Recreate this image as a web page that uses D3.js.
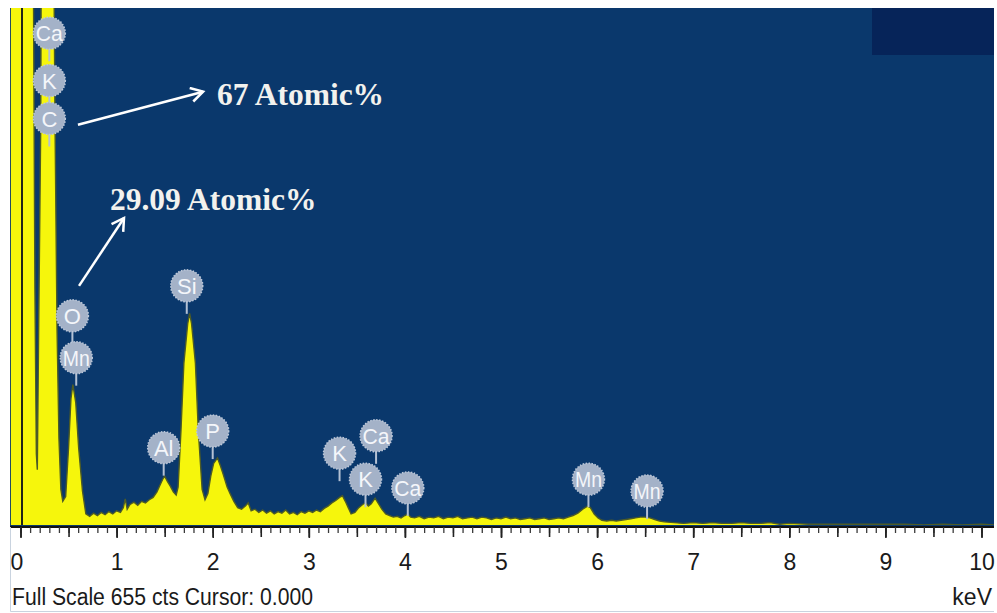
<!DOCTYPE html>
<html>
<head>
<meta charset="utf-8">
<script src="https://cdn.jsdelivr.net/npm/d3@7"></script>
<style>
  body { margin: 0; background: #fff; }
  svg { display: block; }
</style>
</head>
<body>
<div id="chart"></div>
<script>
// EDS spectrum (keV vs counts, full scale 655 cts)
const energies = [
  -0.10, -0.05, 0.00, 0.05, 0.10, 0.13, 0.15, 0.165, 0.175, 0.19, 0.21, 0.23, 0.28, 0.33, 0.36, 0.38, 0.40, 0.42,
  0.44, 0.47, 0.50, 0.525, 0.545, 0.575, 0.605, 0.645, 0.68,
  0.72, 0.76, 0.80, 0.84, 0.88, 0.92, 0.96, 1.00, 1.04, 1.07, 1.09, 1.11, 1.14, 1.18, 1.22, 1.26, 1.30, 1.34, 1.38,
  1.42, 1.45, 1.48, 1.50, 1.53, 1.56, 1.59, 1.62,
  1.64, 1.67, 1.70, 1.74, 1.76, 1.78, 1.82, 1.85, 1.89, 1.92,
  1.95, 1.98, 2.01, 2.05, 2.08, 2.11, 2.15, 2.18, 2.22, 2.26, 2.30, 2.34, 2.37, 2.40, 2.44, 2.48, 2.52, 2.56,
  2.60, 2.64, 2.68, 2.72, 2.76, 2.80, 2.84, 2.88, 2.92, 2.96, 3.00, 3.04, 3.08, 3.12, 3.16, 3.20, 3.24, 3.28,
  3.32, 3.35, 3.38, 3.41, 3.44, 3.48, 3.52, 3.56, 3.59, 3.62, 3.65, 3.69, 3.72, 3.76, 3.80, 3.84, 3.88, 3.92,
  3.96, 4.00, 4.03, 4.06, 4.10, 4.15, 4.20, 4.25, 4.30, 4.35, 4.40, 4.45, 4.50, 4.55, 4.60, 4.65, 4.70, 4.75,
  4.80, 4.85, 4.90, 4.95, 5.00, 5.05, 5.10, 5.15, 5.20, 5.25, 5.30, 5.35, 5.40, 5.45, 5.50, 5.55, 5.60, 5.65,
  5.70, 5.75, 5.80, 5.85, 5.90, 5.93, 5.97, 6.01, 6.05, 6.10, 6.15, 6.20, 6.25, 6.30, 6.35, 6.40, 6.45, 6.50,
  6.55, 6.60, 6.65, 6.70, 6.80, 6.90, 7.00, 7.10, 7.20, 7.30, 7.40, 7.50, 7.60, 7.70, 7.80, 7.90, 8.00, 8.20,
  8.40, 8.60, 8.80, 9.00, 9.20, 9.40, 9.60, 9.80, 10.00, 10.14
];
const counts = [
  2400, 3000, 3200, 2800, 1800, 800, 300, 90, 70, 260, 500, 1200, 2600, 1000, 500, 250, 110, 45,
  30, 36, 98, 160, 178, 155, 98, 43, 14,
  11, 15, 12, 16, 13, 17, 14, 18, 16, 22, 33, 20, 26, 29, 25, 30, 28, 32, 35,
  42, 50, 58, 62, 55, 49, 42, 38,
  48, 120, 205, 255, 268, 255, 205, 120, 45, 32,
  40, 62, 78, 85, 75, 64, 48, 40, 30, 22, 20, 24, 28, 18, 20, 16, 19, 15,
  18, 14, 17, 15, 19, 14, 16, 13, 17, 15, 18, 16, 19, 17, 21, 24, 28, 31,
  35, 37, 30, 22, 14, 16, 22, 26, 28, 24, 27, 34, 28, 20, 14, 12, 10, 11,
  9, 12, 14, 10, 9, 11, 8, 10, 9, 11, 8, 10, 9, 11, 8, 9, 10, 8,
  10, 9, 7, 9, 8, 10, 8, 9, 7, 8, 9, 7, 8, 9, 7, 8, 9, 8,
  10, 12, 15, 20, 24, 22, 14, 9, 6, 5, 6, 5, 6, 7, 8, 9, 10, 10,
  9, 7, 5, 4, 3, 2, 3, 2, 3, 2, 2, 3, 2, 2, 3, 1, 2, 1,
  1, 1, 1, 1, 1, 0, 1, 0, 1, 0
];

// peak identification bubbles (element, energy in keV, height in counts)
const peakLabels   = ["Ca", "K", "C", "O", "Mn", "Si", "Al", "P", "K", "Ca", "K", "Ca", "Mn", "Mn"];
const peakEnergies = [0.30, 0.30, 0.30, 0.54, 0.58, 1.73, 1.49, 2.00, 3.32, 3.70, 3.59, 4.03, 5.91, 6.52];
const peakHeights  = [623, 563, 515, 265, 212, 303, 98, 119, 91, 113, 58, 47, 58, 43];

// annotations: text, arrow tail / head (keV, counts), text anchor (keV, counts)
const noteTexts = ["67 Atomic%", "29.09 Atomic%"];
const noteTail  = [[0.598, 507], [0.609, 303]];
const noteHead  = [[1.90, 549], [1.077, 389]];
const noteText  = [[2.045, 532], [0.931, 399]];

const tickLabels = ["0", "1", "2", "3", "4", "5", "6", "7", "8", "9", "10"];
const fullScale = 655;
const footer = "Full Scale 655 cts Cursor: 0.000";
const unitLabel = "keV";

const W = 997, H = 613;
const plot = { left: 10, right: 994, top: 8, bottom: 525 };

const svg = d3.select("#chart").append("svg")
  .attr("width", W).attr("height", H)
  .style("font-family", "'Liberation Sans', Arial, sans-serif");

const x = d3.scaleLinear().domain([0, 10]).range([20.5, 981.5]);
const y = d3.scaleLinear().domain([0, fullScale]).range([plot.bottom, plot.top]);

const defs = svg.append("defs");
defs.append("clipPath").attr("id", "plotclip")
  .append("rect")
  .attr("x", plot.left).attr("y", plot.top)
  .attr("width", plot.right - plot.left).attr("height", plot.bottom - plot.top);

defs.append("filter").attr("id", "soft")
  .append("feGaussianBlur").attr("stdDeviation", 0.7);

defs.append("marker")
  .attr("id", "arrowhead")
  .attr("markerUnits", "userSpaceOnUse")
  .attr("markerWidth", 20).attr("markerHeight", 20)
  .attr("refX", 13).attr("refY", 8)
  .attr("orient", "auto")
  .append("path")
  .attr("d", "M1,1 L13,8 L1,15")
  .attr("fill", "none")
  .attr("stroke", "#fff")
  .attr("stroke-width", 2.5);

// background of the spectrum window
svg.append("rect")
  .attr("x", plot.left).attr("y", plot.top)
  .attr("width", plot.right - plot.left).attr("height", plot.bottom - plot.top + 2)
  .attr("fill", "#0a386c");

svg.append("rect")
  .attr("x", 872).attr("y", plot.top)
  .attr("width", plot.right - 872).attr("height", 47)
  .attr("fill", "#062459");

// spectrum
const spectrum = energies.map((e, i) => ({ e, c: counts[i] }));

const g = svg.append("g").attr("clip-path", "url(#plotclip)");

g.append("path")
  .datum(spectrum)
  .attr("fill", "#f6f60c")
  .attr("d", d3.area().x(d => x(d.e)).y0(y(0)).y1(d => y(d.c)));

g.append("path")
  .datum(spectrum)
  .attr("fill", "none")
  .attr("stroke", "#4d5b26")
  .attr("stroke-width", 1.4)
  .attr("d", d3.line().x(d => x(d.e)).y(d => y(d.c)));

// cursor line at 0 keV
g.append("line")
  .attr("x1", x(0) + 1.5).attr("x2", x(0) + 1.5)
  .attr("y1", plot.top).attr("y2", plot.bottom + 2)
  .attr("stroke", "#202418").attr("stroke-width", 2);

// peak bubbles
const bubbles = svg.append("g");
peakLabels.forEach((lab, i) => {
  const cx = x(peakEnergies[i]), cy = y(peakHeights[i]);
  bubbles.append("line")
    .attr("x1", cx).attr("x2", cx)
    .attr("y1", cy).attr("y2", cy + 28)
    .attr("stroke", "#b4c1d4").attr("stroke-width", 2);
});
peakLabels.forEach((lab, i) => {
  const cx = x(peakEnergies[i]), cy = y(peakHeights[i]);
  bubbles.append("circle")
    .attr("cx", cx).attr("cy", cy).attr("r", 16)
    .attr("fill", "#a4b2c8")
    .attr("stroke", "#bcc7d8")
    .attr("stroke-width", 1.5)
    .attr("stroke-dasharray", "1.5 1.5")
    .attr("filter", "url(#soft)");
  const t = bubbles.append("text")
    .attr("x", cx).attr("y", cy + 8)
    .attr("text-anchor", "middle")
    .attr("fill", "#f4f6fa")
    .style("font-size", "22px")
    .text(lab);
  // squeeze wide symbols so they stay inside the bubble
  if (t.node().getComputedTextLength() > 27) {
    t.attr("textLength", 27).attr("lengthAdjust", "spacingAndGlyphs");
  }
});

// annotations
noteTexts.forEach((t, i) => {
  svg.append("line")
    .attr("x1", x(noteTail[i][0])).attr("y1", y(noteTail[i][1]))
    .attr("x2", x(noteHead[i][0])).attr("y2", y(noteHead[i][1]))
    .attr("stroke", "#fff").attr("stroke-width", 2.5)
    .attr("marker-end", "url(#arrowhead)");
  svg.append("text")
    .attr("x", x(noteText[i][0])).attr("y", y(noteText[i][1]))
    .attr("fill", "#f2f2ee")
    .style("font-family", "'Liberation Serif', 'Times New Roman', serif")
    .style("font-weight", "bold")
    .style("font-size", "31.5px")
    .text(t);
});

// energy axis (ruler style)
const axisY = plot.bottom + 2;
svg.append("line")
  .attr("x1", plot.left).attr("x2", plot.right)
  .attr("y1", axisY).attr("y2", axisY)
  .attr("stroke", "#111").attr("stroke-width", 2);

const minorTicks = d3.range(0, 101).map(d => d / 10);
const axisG = svg.append("g").attr("transform", `translate(0,${axisY})`);

axisG.append("g")
  .call(d3.axisBottom(x).tickValues(minorTicks).tickSize(6).tickFormat(""))
  .call(a => a.select(".domain").remove())
  .call(a => a.selectAll(".tick line").attr("stroke", "#3a3a3a").attr("stroke-width", 1.3));

axisG.append("g")
  .call(d3.axisBottom(x).tickValues(minorTicks.filter(d => Math.round(d * 10) % 5 === 0)).tickSize(10).tickFormat(""))
  .call(a => a.select(".domain").remove())
  .call(a => a.selectAll(".tick line").attr("stroke", "#222").attr("stroke-width", 1.6));

axisG.append("g")
  .call(d3.axisBottom(x).tickValues(tickLabels.map(Number)).tickSize(11).tickFormat((d, i) => tickLabels[i]))
  .call(a => a.select(".domain").remove())
  .call(a => a.selectAll(".tick line").attr("stroke", "#222").attr("stroke-width", 1.6))
  .call(a => a.selectAll(".tick text")
    .attr("y", 43).attr("dy", null)
    .attr("fill", "#1a1a1a")
    .style("font-family", "'Liberation Sans', Arial, sans-serif")
    .style("font-size", "23px"))
  .call(a => a.select(".tick:first-of-type text").attr("dx", -4));

svg.append("text")
  .attr("x", 12).attr("y", 605)
  .attr("fill", "#1a1a1a")
  .style("font-size", "23px")
  .attr("textLength", 301)
  .attr("lengthAdjust", "spacingAndGlyphs")
  .text(footer);

svg.append("text")
  .attr("x", 992).attr("y", 605)
  .attr("text-anchor", "end")
  .attr("fill", "#1a1a1a")
  .style("font-size", "23px")
  .text(unitLabel);

// window border
svg.append("path")
  .attr("d", `M${plot.left + 0.5},${axisY} V${H - 1.5} H${plot.right}`)
  .attr("fill", "none")
  .attr("stroke", "#c9d3df")
  .attr("stroke-width", 1);
</script>
</body>
</html>
